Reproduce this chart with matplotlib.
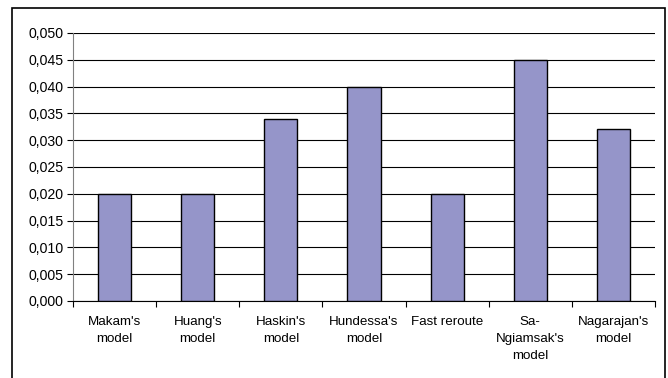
import matplotlib
matplotlib.use("Agg")
import matplotlib.pyplot as plt
from matplotlib.patches import Rectangle
from matplotlib.ticker import FuncFormatter, MultipleLocator
import numpy as np

plt.rcParams['font.family'] = ['Liberation Sans', 'DejaVu Sans']

categories = ["Makam's\nmodel", "Huang's\nmodel", "Haskin's\nmodel", "Hundessa's\nmodel",
              "Fast reroute", "Sa-\nNgiamsak's\nmodel", "Nagarajan's\nmodel"]
values = [0.020, 0.020, 0.034, 0.040, 0.020, 0.045, 0.032]
y_ticks = [0.000, 0.005, 0.010, 0.015, 0.020, 0.025, 0.030, 0.035, 0.040, 0.045, 0.050]

fig = plt.figure(figsize=(6.68, 3.78), dpi=100)
ax = fig.add_axes([73/668, 1 - 301/378, (655 - 73)/668, (301 - 33)/378])

# outer chart-area frame
fig.patches.append(Rectangle((12/668, -0.05), (665 - 12)/668, 1.05 - 8/378,
                             transform=fig.transFigure, fill=False,
                             edgecolor='black', linewidth=1.2, clip_on=False))

x = np.arange(len(categories))
ax.set_axisbelow(True)
ax.bar(x, values, width=0.4, color='#9595C9', edgecolor='black', linewidth=1.0, zorder=3)

ax.set_xlim(-0.5, len(categories) - 0.5)
ax.set_ylim(0, 0.050)
ax.set_yticks(y_ticks)
ax.yaxis.set_major_formatter(FuncFormatter(lambda v, p: f"{v:.3f}".replace('.', ',')))
ax.yaxis.grid(True, color='black', linewidth=0.8)

ax.set_xticks(x)
ax.set_xticklabels(categories, fontsize=9.6, linespacing=1.58)
ax.xaxis.set_minor_locator(MultipleLocator(1, offset=0.5))
ax.tick_params(axis='x', which='major', length=0, pad=10.5)
ax.tick_params(axis='x', which='minor', length=4, width=0.8, color='black')
ax.tick_params(axis='y', length=4, width=0.8, labelsize=10.2, pad=3)

for side in ('top', 'right'):
    ax.spines[side].set_visible(False)
ax.spines['left'].set_color('#808080')
ax.spines['left'].set_linewidth(0.8)
ax.spines['bottom'].set_color('black')
ax.spines['bottom'].set_linewidth(0.8)

fig.savefig('out.png', dpi=100)
